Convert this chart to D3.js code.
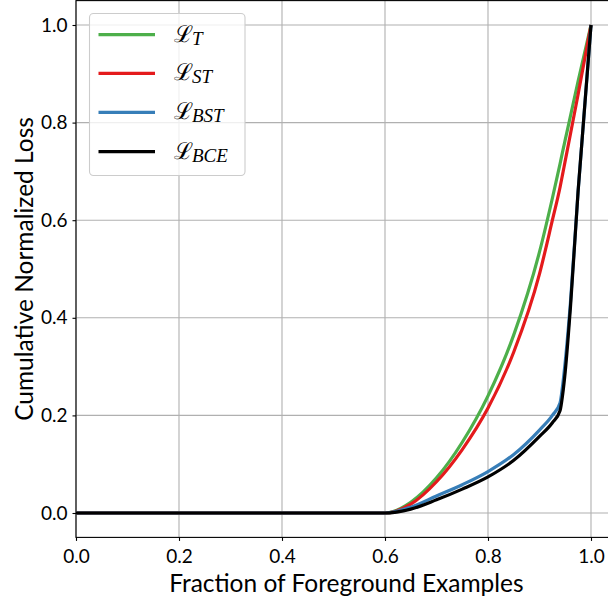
<!DOCTYPE html>
<html>
<head>
<meta charset="utf-8">
<script src="https://cdn.jsdelivr.net/npm/d3@7"></script>
<style>
  body { margin: 0; background: #fff; }
  svg { display: block; }
</style>
</head>
<body>
<div id="chart"></div>
<script>
// values
const xs      = [0, 0.6, 0.65, 0.7, 0.75, 0.8, 0.85, 0.9, 0.925, 0.94, 0.945, 0.95, 0.96, 0.975, 1.0];
const lossT   = [0, 0, 0.022, 0.072, 0.145, 0.24, 0.365, 0.535, 0.645, 0.716, 0.741, 0.765, 0.813, 0.885, 1.0];
const lossST  = [0, 0, 0.018, 0.064, 0.13, 0.215, 0.33, 0.49, 0.6, 0.668, 0.695, 0.722, 0.776, 0.858, 1.0];
const lossBST = [0, 0, 0.012, 0.035, 0.058, 0.085, 0.12, 0.17, 0.2, 0.226, 0.262, 0.31, 0.43, 0.66, 1.0];
const lossBCE = [0, 0, 0.008, 0.027, 0.049, 0.074, 0.108, 0.157, 0.185, 0.21, 0.243, 0.29, 0.42, 0.66, 1.0];

const seriesNames = ["T", "ST", "BST", "BCE"];
const seriesColors = ["#4daf4a", "#e41a1c", "#377eb8", "#000000"];
const seriesValues = [lossT, lossST, lossBST, lossBCE];

const xTicks = [0, 0.2, 0.4, 0.6, 0.8, 1.0];
const yTicks = [0, 0.2, 0.4, 0.6, 0.8, 1.0];

const W = 608, H = 603;
// plot box (right side runs past the window like the reference)
const pL = 76, pT = 0.6, pR = 616.75, pB = 537.4;

const svg = d3.select("#chart").append("svg")
  .attr("width", W)
  .attr("height", H);

const x = d3.scaleLinear().domain([0, 1.05]).range([pL, pR]);
const y = d3.scaleLinear().domain([-0.05, 1.05]).range([pB, pT]);

// grid
svg.append("g")
  .selectAll("line")
  .data(xTicks)
  .join("line")
    .attr("x1", d => x(d)).attr("x2", d => x(d))
    .attr("y1", pT).attr("y2", pB)
    .attr("stroke", "#b0b0b0").attr("stroke-width", 1.1);
svg.append("g")
  .selectAll("line")
  .data(yTicks)
  .join("line")
    .attr("x1", pL).attr("x2", pR)
    .attr("y1", d => y(d)).attr("y2", d => y(d))
    .attr("stroke", "#b0b0b0").attr("stroke-width", 1.1);

// axes
const xAxis = svg.append("g")
  .attr("transform", `translate(0,${pB})`)
  .call(d3.axisBottom(x).tickValues(xTicks).tickFormat(d3.format(".1f")).tickSizeOuter(0).tickSize(3.5).tickPadding(4));
const yAxis = svg.append("g")
  .attr("transform", `translate(${pL},0)`)
  .call(d3.axisLeft(y).tickValues(yTicks).tickFormat(d3.format(".1f")).tickSizeOuter(0).tickSize(3.5).tickPadding(5));

[xAxis, yAxis].forEach(g => {
  g.select(".domain").remove();
  g.selectAll(".tick line").attr("stroke", "#000").attr("stroke-width", 1.1);
  g.selectAll(".tick text")
    .attr("fill", "#000")
    .style("font-family", "Lato, sans-serif")
    .style("font-size", "19px");
});
xAxis.selectAll(".tick text").attr("dy", "0.95em");

// spines
svg.append("rect")
  .attr("x", pL).attr("y", pT)
  .attr("width", pR - pL).attr("height", pB - pT)
  .attr("fill", "none").attr("stroke", "#000").attr("stroke-width", 1.1);

// curves
svg.append("clipPath").attr("id", "plotclip")
  .append("rect").attr("x", pL).attr("y", pT)
  .attr("width", pR - pL).attr("height", pB - pT);

const line = d3.line()
  .x((d, i) => x(xs[i]))
  .y(d => y(d))
  .curve(d3.curveMonotoneX);

svg.append("g").attr("clip-path", "url(#plotclip)")
  .selectAll("path")
  .data(seriesValues)
  .join("path")
    .attr("d", d => line(d))
    .attr("fill", "none")
    .attr("stroke", (d, i) => seriesColors[i])
    .attr("stroke-width", 3.2)
    .attr("stroke-linejoin", "round");

// axis labels
svg.append("text")
  .attr("x", (pL + pR) / 2).attr("y", 591.5)
  .attr("text-anchor", "middle")
  .style("font-family", "Lato, sans-serif")
  .style("font-size", "24.5px")
  .text("Fraction of Foreground Examples");

svg.append("text")
  .attr("transform", `translate(33,${(pT + pB) / 2}) rotate(-90)`)
  .attr("text-anchor", "middle")
  .style("font-family", "Lato, sans-serif")
  .style("font-size", "24.5px")
  .text("Cumulative Normalized Loss");

// legend
const legend = svg.append("g");
legend.append("rect")
  .attr("x", 89.5).attr("y", 13.5)
  .attr("width", 155.5).attr("height", 162)
  .attr("rx", 4)
  .attr("fill", "#fff").attr("fill-opacity", 0.8)
  .attr("stroke", "#cccccc").attr("stroke-width", 1.1);

const rowY = [34.7, 73.3, 112.3, 151.7];
const rows = legend.selectAll("g.row")
  .data(seriesNames)
  .join("g")
    .attr("transform", (d, i) => `translate(0,${rowY[i]})`);

rows.append("line")
  .attr("x1", 98.5).attr("x2", 155)
  .attr("stroke", (d, i) => seriesColors[i])
  .attr("stroke-width", 3.2);

const lbl = rows.append("text")
  .attr("x", 174).attr("y", 7);
lbl.append("tspan")
  .style("font-family", "'DejaVu Serif', serif")
  .style("font-size", "23px")
  .text("\u2112");
lbl.append("tspan")
  .attr("dy", 3)
  .attr("dx", -1)
  .style("font-family", "'Liberation Serif', serif")
  .style("font-style", "italic")
  .style("font-size", "19px")
  .text(d => d);
</script>
</body>
</html>
